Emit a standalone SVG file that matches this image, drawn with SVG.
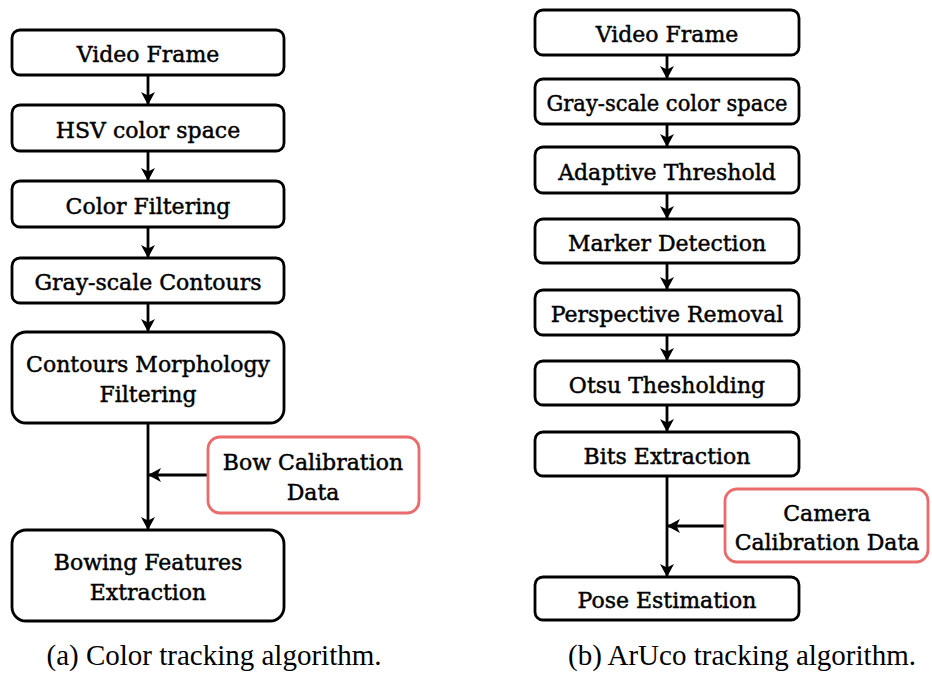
<svg xmlns="http://www.w3.org/2000/svg" width="932" height="673" viewBox="0 0 932 673">
<defs>
<style>
.box{fill:#fff;stroke:#000;stroke-width:2.8}
.cal{fill:#fff;stroke:#ea6b6b;stroke-width:2.8}
.t{font-family:"DejaVu Serif","Liberation Serif",serif;font-size:22px;fill:#000;stroke:#000;stroke-width:0.45;text-anchor:middle}
.cap{font-family:"Liberation Serif","Times New Roman",serif;font-size:29px;fill:#000;text-anchor:middle}
.c{stroke:#000;stroke-width:2.8;fill:none;marker-end:url(#ah)}
</style>
<marker id="ah" markerWidth="13" markerHeight="14" viewBox="0 0 13 14" refX="12" refY="7" orient="auto" markerUnits="userSpaceOnUse">
<path d="M0,0 L13,7 L0,14 L3.5,7 Z" fill="#000"/>
</marker>
</defs>
<rect width="932" height="673" fill="#fff"/>
<g id="connectors">
<line class="c" x1="148" y1="75" x2="148" y2="104"/>
<line class="c" x1="148" y1="151" x2="148" y2="180"/>
<line class="c" x1="148" y1="227" x2="148" y2="257"/>
<line class="c" x1="148" y1="303" x2="148" y2="331"/>
<line class="c" x1="148" y1="423" x2="148" y2="529"/>
<line class="c" x1="208" y1="475" x2="149" y2="475"/>
<line class="c" x1="667" y1="55" x2="667" y2="78"/>
<line class="c" x1="667" y1="124" x2="667" y2="146"/>
<line class="c" x1="667" y1="193" x2="667" y2="218"/>
<line class="c" x1="667" y1="263" x2="667" y2="289"/>
<line class="c" x1="667" y1="335" x2="667" y2="360"/>
<line class="c" x1="667" y1="405" x2="667" y2="431"/>
<line class="c" x1="667" y1="476" x2="667" y2="576"/>
<line class="c" x1="725" y1="526" x2="668" y2="526"/>
</g>
<g id="a-video"><rect class="box" x="12" y="30" width="272" height="45" rx="8"/><text class="t" x="148" y="62">Video Frame</text></g>
<g id="a-hsv"><rect class="box" x="12" y="105" width="272" height="46" rx="8"/><text class="t" x="148" y="137.5">HSV color space</text></g>
<g id="a-filter"><rect class="box" x="12" y="181" width="272" height="46" rx="8"/><text class="t" x="148" y="213.5">Color Filtering</text></g>
<g id="a-gray"><rect class="box" x="12" y="258" width="272" height="45" rx="8"/><text class="t" x="148" y="290">Gray-scale Contours</text></g>
<g id="a-morph"><rect class="box" x="12" y="332" width="272" height="91" rx="14"/><text class="t" x="148" y="372">Contours Morphology</text><text class="t" x="148" y="402">Filtering</text></g>
<g id="a-bowcal"><rect class="cal" x="208" y="437" width="211" height="76" rx="12"/><text class="t" x="313" y="470">Bow Calibration</text><text class="t" x="313" y="500">Data</text></g>
<g id="a-bowing"><rect class="box" x="12" y="530" width="272" height="91" rx="14"/><text class="t" x="148" y="570">Bowing Features</text><text class="t" x="148" y="600">Extraction</text></g>
<g id="b-video"><rect class="box" x="535" y="10" width="264" height="45" rx="8"/><text class="t" x="667" y="42">Video Frame</text></g>
<g id="b-gray"><rect class="box" x="535" y="79" width="264" height="45" rx="8"/><text class="t" x="667" y="111" textLength="241" lengthAdjust="spacingAndGlyphs">Gray-scale color space</text></g>
<g id="b-adapt"><rect class="box" x="535" y="147" width="264" height="46" rx="8"/><text class="t" x="667" y="179.5">Adaptive Threshold</text></g>
<g id="b-marker"><rect class="box" x="535" y="219" width="264" height="44" rx="8"/><text class="t" x="667" y="250.5">Marker Detection</text></g>
<g id="b-persp"><rect class="box" x="535" y="290" width="264" height="45" rx="8"/><text class="t" x="667" y="322">Perspective Removal</text></g>
<g id="b-otsu"><rect class="box" x="535" y="361" width="264" height="44" rx="8"/><text class="t" x="667" y="392.5">Otsu Thesholding</text></g>
<g id="b-bits"><rect class="box" x="535" y="432" width="264" height="44" rx="8"/><text class="t" x="667" y="463.5">Bits Extraction</text></g>
<g id="b-camcal"><rect class="cal" x="725" y="489" width="203" height="73" rx="12"/><text class="t" x="827" y="521">Camera</text><text class="t" x="827" y="550">Calibration Data</text></g>
<g id="b-pose"><rect class="box" x="535" y="577" width="264" height="43" rx="8"/><text class="t" x="667" y="608">Pose Estimation</text></g>
<text class="cap" x="214" y="665">(a) Color tracking algorithm.</text>
<text class="cap" x="742" y="665">(b) ArUco tracking algorithm.</text>
</svg>
